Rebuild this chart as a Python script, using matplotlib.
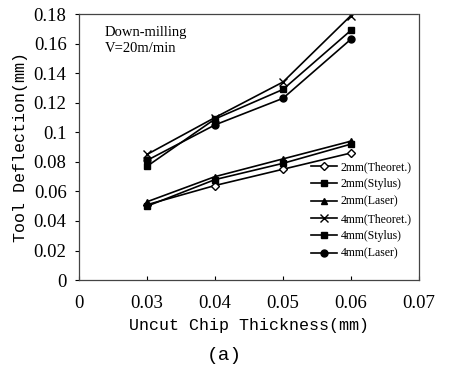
import matplotlib
matplotlib.use("Agg")
import matplotlib.pyplot as plt

# x categories (equally spaced like an Excel line chart)
x_labels = ["0", "0.03", "0.04", "0.05", "0.06", "0.07"]
x_pos = [1, 2, 3, 4]

# Tool deflection (mm)
t2_theoret = [0.051, 0.064, 0.075, 0.086]
t2_stylus = [0.050, 0.068, 0.079, 0.092]
t2_laser = [0.053, 0.070, 0.082, 0.094]
t4_theoret = [0.085, 0.110, 0.134, 0.179]
t4_stylus = [0.077, 0.109, 0.129, 0.169]
t4_laser = [0.081, 0.105, 0.123, 0.163]

series = [
    ("2mm(Theoret.)", t2_theoret, "D", "white", 4),
    ("2mm(Stylus)", t2_stylus, "s", "black", 5),
    ("2mm(Laser)", t2_laser, "^", "black", 5),
    ("4mm(Theoret.)", t4_theoret, "x", "black", 6),
    ("4mm(Stylus)", t4_stylus, "s", "black", 5),
    ("4mm(Laser)", t4_laser, "o", "black", 5),
]

plt.rcParams["font.family"] = ["Liberation Serif", "DejaVu Serif"]

fig = plt.figure(figsize=(4.49, 3.70), dpi=100)
ax = fig.add_axes([0.176, 0.243, 0.757, 0.719])

for label, vals, mk, fc, ms in series:
    ax.plot(x_pos, vals, color="black", lw=1.2, marker=mk, markersize=ms,
            markerfacecolor=fc, markeredgecolor="black", markeredgewidth=1.0,
            label=label)

ax.set_xlim(0, 5)
ax.set_ylim(0, 0.18)
ax.set_xticks(range(6))
ax.set_xticklabels(x_labels, fontsize=13.5)
ax.set_yticks([0, 0.02, 0.04, 0.06, 0.08, 0.1, 0.12, 0.14, 0.16, 0.18])
ax.set_yticklabels(["0", "0.02", "0.04", "0.06", "0.08", "0.1", "0.12",
                    "0.14", "0.16", "0.18"], fontsize=13.5)
ax.tick_params(axis="x", direction="in", length=3, pad=11)
ax.tick_params(axis="y", direction="out", length=3, pad=6)

for sp in ax.spines.values():
    sp.set_linestyle((0, (1, 1)))
    sp.set_color("#444444")
    sp.set_linewidth(0.9)
ax.spines["left"].set_linestyle("-")
ax.spines["bottom"].set_linestyle("-")

ax.set_xlabel("Uncut Chip Thickness(mm)", fontsize=12, family="Liberation Mono",
              labelpad=4)
ax.set_ylabel("Tool Deflection(mm)", fontsize=12, family="Liberation Mono",
              labelpad=4)

ax.text(0.075, 0.955, "Down-milling\nV=20m/min", transform=ax.transAxes,
        fontsize=10.5, va="top", ha="left", linespacing=1.25)

leg = ax.legend(loc="lower right", bbox_to_anchor=(1.0, 0.05), fontsize=8.5,
                frameon=False, handlelength=2.2, handletextpad=0.3,
                labelspacing=0.45, borderaxespad=0.2)

fig.text(0.50, 0.04, "(a)", ha="center", va="center", fontsize=14,
         family="Liberation Mono")

fig.savefig("out.png", dpi=100)
